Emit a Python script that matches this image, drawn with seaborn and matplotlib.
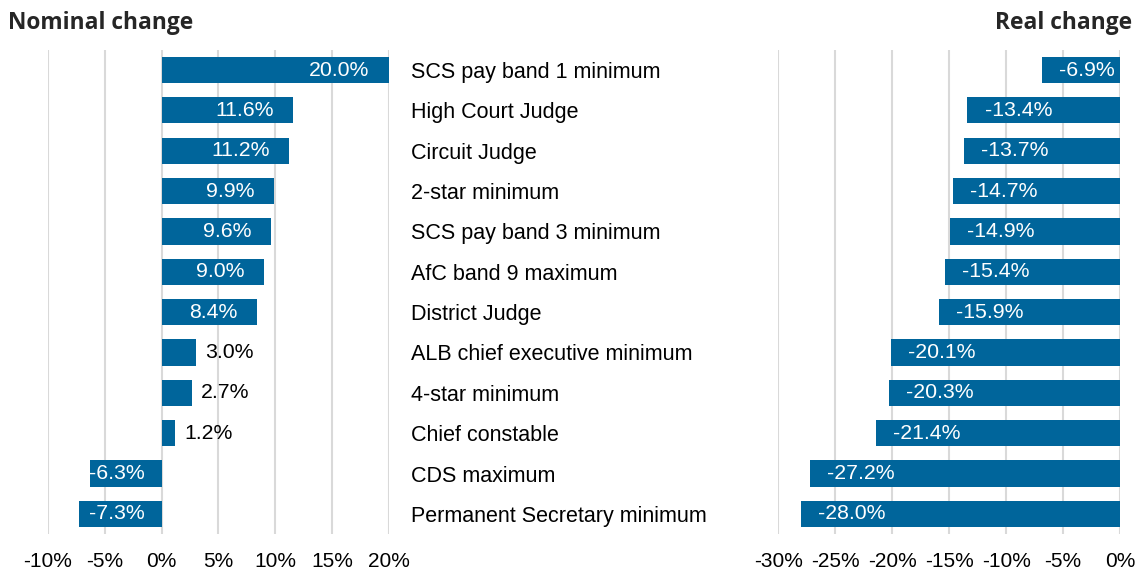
import matplotlib
matplotlib.use("Agg")
import matplotlib.pyplot as plt
import matplotlib.ticker as mticker
import seaborn as sns
import pandas as pd

roles = [
    "SCS pay band 1 minimum",
    "High Court Judge",
    "Circuit Judge",
    "2-star minimum",
    "SCS pay band 3 minimum",
    "AfC band 9 maximum",
    "District Judge",
    "ALB chief executive minimum",
    "4-star minimum",
    "Chief constable",
    "CDS maximum",
    "Permanent Secretary minimum",
]
nominal = [20.0, 11.6, 11.2, 9.9, 9.6, 9.0, 8.4, 3.0, 2.7, 1.2, -6.3, -7.3]
real = [-6.9, -13.4, -13.7, -14.7, -14.9, -15.4, -15.9, -20.1, -20.3, -21.4, -27.2, -28.0]
nominal_ticks = [-10, -5, 0, 5, 10, 15, 20]
real_ticks = [-30, -25, -20, -15, -10, -5, 0]

df = pd.DataFrame({"role": roles, "nominal": nominal, "real": real})

sns.set_style("white")
plt.rcParams["font.family"] = ["Liberation Sans", "DejaVu Sans"]
plt.rcParams["axes.unicode_minus"] = False

BAR = "#00659B"
GRID = "#D9D9D9"
LABEL_FS = 15.3

fig = plt.figure(figsize=(11.43, 5.73), dpi=100)
ax1 = fig.add_axes([0.042, 0.068, 0.298, 0.845])
ax2 = fig.add_axes([0.681, 0.068, 0.299, 0.845])

pct = mticker.FuncFormatter(lambda v, p: f"{int(round(v))}%")

for ax, col, ticks in [(ax1, "nominal", nominal_ticks), (ax2, "real", real_ticks)]:
    sns.barplot(data=df, x=col, y="role", ax=ax, color=BAR, saturation=1,
                width=0.65, linewidth=0, zorder=3)
    ax.set_xlim(ticks[0], ticks[-1])
    ax.set_ylim(11.5, -0.5)
    ax.set_xticks(ticks)
    ax.xaxis.set_major_formatter(pct)
    ax.grid(axis="x", color=GRID, linewidth=1.5, zorder=0)
    ax.grid(axis="y", visible=False)
    for s in ax.spines.values():
        s.set_visible(False)
    ax.set_xlabel("")
    ax.set_ylabel("")
    ax.tick_params(axis="x", length=0, pad=13, labelsize=15, colors="#000000")

# category names sit between the panels, as right-side ticks of the left panel
ax1.yaxis.tick_right()
ax1.tick_params(axis="y", length=0, pad=16, labelsize=15.5, colors="#000000")
ax2.set_yticks([])

# value labels, left panel
for i, v in enumerate(nominal):
    txt = f"{v:.1f}%"
    if v >= 5:
        ax1.text(v - 1.7, i, txt, ha="right", va="center", color="white", fontsize=LABEL_FS, zorder=4)
    elif v > 0:
        ax1.text(v + 0.8, i, txt, ha="left", va="center", color="black", fontsize=LABEL_FS, zorder=4)
    else:
        ax1.text(-1.5, i, txt, ha="right", va="center", color="white", fontsize=LABEL_FS, zorder=4)

# value labels, right panel
for i, v in enumerate(real):
    ax2.text(v + 1.5, i, f"{v:.1f}%", ha="left", va="center", color="white", fontsize=LABEL_FS, zorder=4)

fig.text(8 / 1143, 1 - 29 / 573, "Nominal change", ha="left", va="baseline",
         fontsize=16.4, fontweight="bold", family=["Open Sans", "DejaVu Sans"])
fig.text(1132 / 1143, 1 - 29 / 573, "Real change", ha="right", va="baseline",
         fontsize=16.4, fontweight="bold", family=["Open Sans", "DejaVu Sans"])

fig.savefig("out.png", dpi=100)
